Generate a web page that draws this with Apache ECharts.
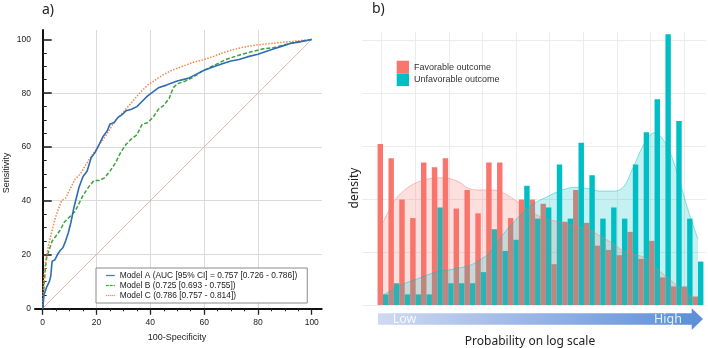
<!DOCTYPE html>
<html><head><meta charset="utf-8">
<script src="https://cdn.jsdelivr.net/npm/echarts@6/dist/echarts.min.js"></script>
<style>html,body{margin:0;padding:0;background:#fff}#c{width:708px;height:348px}</style>
</head><body><div id="c"></div>
<script>
// ---- Panel a) ROC curves (100-Specificity, Sensitivity) ----
const fprA = [0,0.5,1.5,2.5,3,3.5,4.5,5.5,6.5,7.5,8.5,9.5,10.5,11.5,12.5,13.5,15,16.5,18,19.5,21,22.5,24,25,26.5,28,29.5,31,33,35,37,39,41,43,46,50,54,57,60,64,67,70,73,76,80,83,86,89,92,95,100];
const tprA = [0,5,8,10,12,17.5,18,20,21.5,22.5,25,28,32,37,41,45,49,51,56,58,61,64,66,68.5,69,71,72,73.5,74,75,77,79,80.5,82,83,84.5,85.5,87,88.5,90,91,92,92.5,93.5,94.5,95.5,96.5,97.5,98.5,99,100];
const fprB = [0,0.5,1,1.5,2.5,3.5,5,6.5,8,10,12,13.5,15,17,19,21,23,25,27,29,31,33,35,37,39,41,43,45,47,48.5,50,53,56,59,62,65,68,71,74,78,82,86,90,94,97,100];
const tprB = [0,8,15,19,22,25,27,29,32,34,36,39,42,45,47.5,47.5,48.5,51,54,58,61,63,64.5,68.5,69,71,74,75.5,78,82,83.5,84.5,86,88,89.5,91,92.5,93.5,94.5,95.5,96.5,97,98,99,99.5,100];
const fprC = [0,0.3,1,1.5,2.5,3.5,4.5,5.5,7,8.5,10.5,12,14,17,20.5,24,27,30,33.5,36,39,42,45,48,52,56,60,63,67,70,74,80,85,90,95,100];
const tprC = [0,10,17,20,25,29,33,36,40,41,45,48,50,55,60,65,70,73,77,80,83,85,87,88.5,90,91.5,92.5,93.5,95,96,97,98,98.5,99,99.5,100];
const diagonal = [0,100];
const rocTicks = [0,20,40,60,80,100];
const modelNames = [
  'Model A (AUC [95% CI] = 0.757 [0.726 - 0.786])',
  'Model B (0.725 [0.693 - 0.755])',
  'Model C (0.786 [0.757 - 0.814])'
];

// ---- Panel b) histogram + density on log-probability bins ----
const bins = ['b1','b2','b3','b4','b5','b6','b7','b8','b9','b10','b11','b12','b13','b14','b15','b16','b17','b18','b19','b20','b21','b22','b23','b24','b25','b26','b27','b28','b29','b30'];
const favorable   = [3.04,2.77,1.99,1.64,2.69,2.60,2.77,1.82,2.17,1.73,2.69,2.69,1.64,1.99,1.99,1.91,0.77,1.57,2.17,1.55,1.12,1.04,0.94,1.38,0.87,1.21,0.52,0.35,0.35,0.16];
const unfavorable = [0.20,0.41,0.20,0.20,0.20,1.84,0.41,0.41,0.41,0.62,1.43,1.02,1.23,2.25,1.63,1.84,2.65,1.63,3.06,2.45,1.63,1.84,1.63,2.65,3.26,3.88,5.11,3.47,1.63,0.82];
const densFav     = [1.55,1.95,2.17,2.30,2.37,2.40,2.39,2.32,2.19,2.17,2.17,2.12,2.00,1.85,1.72,1.62,1.58,1.52,1.47,1.42,1.30,1.18,1.04,0.96,0.90,0.72,0.55,0.38,0.20,0.08];
const densUnfav   = [0.19,0.30,0.41,0.48,0.56,0.63,0.66,0.70,0.75,0.86,1.03,1.32,1.56,1.77,1.93,2.03,2.13,2.20,2.22,2.19,2.15,2.15,2.20,2.58,3.02,3.25,3.05,2.55,1.85,1.24];
const outcomeNames = ['Favorable outcome','Unfavorable outcome'];

const RED = '#F8766D', TEAL = '#00BFC4';
const BLUE = '#2e6db4', GREEN = '#3aa53a', ORANGE = '#f5884a';
const AX = 'Liberation Sans, Arial, sans-serif';
const NS = 'Noto Sans, Open Sans, sans-serif';
const pairs = (xs, ys) => xs.map((x, i) => [x, ys[i]]);

const ICON_SOLID = 'path://M0,0H10V1H0Z';
const ICON_DASH = 'path://M0,0H3V1H0ZM4.5,0H7.5V1H4.5ZM9,0H10V1H9Z';
const ICON_DOT = 'path://M0,0H1V1H0ZM2.25,0H3.25V1H2.25ZM4.5,0H5.5V1H4.5ZM6.75,0H7.75V1H6.75ZM9,0H10V1H9Z';
const legendItem = (name, icon, color) => ({name, icon, itemStyle: {color, borderColor: color, borderWidth: 0.3, opacity: 1}});

const chart = echarts.init(document.getElementById('c'), null, {renderer: 'canvas'});

chart.setOption({
  animation: false,
  backgroundColor: '#fff',
  grid: [
    {left: 42.7, top: 30, width: 279, height: 278.3},
    {left: 35, top: 30, width: 286.7, height: 278.3},
    {left: 362, top: 32.05, width: 344, height: 272.95},
    {left: 381.7, top: 32.05, width: 302.3, height: 272.95},
    {left: 377.57, top: 32.05, width: 325.86, height: 272.95}
  ],
  xAxis: [
    {gridIndex: 0, type: 'value', min: 0, max: 103.7, interval: 20,
     axisLine: {show: false},
     axisTick: {show: true, customValues: rocTicks, length: 6.5, lineStyle: {color: '#222', width: 1.3}},
     minorTick: {show: true, splitNumber: 4, length: 3, lineStyle: {color: '#222', width: 1}},
     axisLabel: {customValues: rocTicks, margin: 10, fontSize: 8.5, color: '#222', fontFamily: AX},
     splitLine: {show: true, showMinLine: false, showMaxLine: false, lineStyle: {color: '#dadada', width: 1}}},
    {gridIndex: 1, type: 'value', min: 0, max: 1,
     axisLine: {show: true, lineStyle: {color: '#111', width: 2}},
     axisTick: {show: false}, axisLabel: {show: false}, splitLine: {show: false}},
    {gridIndex: 2, type: 'value', min: 0, max: 1, show: false},
    {gridIndex: 3, type: 'value', min: 0, max: 9, interval: 1,
     axisLine: {show: false}, axisTick: {show: false}, axisLabel: {show: false},
     splitLine: {show: true, lineStyle: {color: '#ececec', width: 1}}},
    {gridIndex: 4, type: 'category', data: bins, boundaryGap: true, show: false}
  ],
  yAxis: [
    {gridIndex: 0, type: 'value', min: 0, max: 103.5, interval: 20, offset: 7.7,
     axisLine: {show: true, lineStyle: {color: '#111', width: 2}},
     axisTick: {show: true, inside: true, customValues: rocTicks, length: 9, lineStyle: {color: '#222', width: 1.6}},
     minorTick: {show: true, splitNumber: 4, length: 4, lineStyle: {color: '#222', width: 1}},
     axisLabel: {customValues: rocTicks, margin: 4, fontSize: 8.5, color: '#222', fontFamily: AX},
     splitLine: {show: true, showMinLine: false, showMaxLine: false, lineStyle: {color: '#dadada', width: 1}}},
    {gridIndex: 1, type: 'value', min: 0, max: 1, show: false},
    {gridIndex: 2, type: 'value', min: 0, max: 5.15, interval: 1,
     axisLine: {show: false}, axisTick: {show: false}, axisLabel: {show: false},
     splitLine: {show: true, showMaxLine: false, lineStyle: {color: '#ececec', width: 1}}},
    {gridIndex: 3, type: 'value', min: 0, max: 1, show: false},
    {gridIndex: 4, type: 'value', min: 0, max: 5.15, show: false}
  ],
  legend: [
    {left: 96, top: 268, orient: 'vertical', padding: [3.5, 10, 3.5, 10], itemGap: 2,
     itemWidth: 8.5, itemHeight: 2, borderColor: '#8a8a8a', borderWidth: 1, backgroundColor: '#fff',
     textStyle: {fontSize: 8.4, color: '#222', fontFamily: AX},
     data: [
       legendItem(modelNames[0], ICON_SOLID, BLUE),
       legendItem(modelNames[1], ICON_DASH, GREEN),
       legendItem(modelNames[2], ICON_DOT, ORANGE)
     ]},
    {left: 396.7, top: 60.7, orient: 'vertical', padding: 0, itemGap: 0,
     itemWidth: 12.3, itemHeight: 12.7, icon: 'rect',
     textStyle: {fontSize: 9, color: '#333', fontFamily: AX}, data: outcomeNames}
  ],
  series: [
    {type: 'line', name: 'diag', xAxisIndex: 0, yAxisIndex: 0, data: pairs(diagonal, diagonal),
     symbol: 'none', silent: true, lineStyle: {color: '#e4b4b4', width: 1}, z: 1},
    {type: 'line', name: modelNames[1], xAxisIndex: 0, yAxisIndex: 0, data: pairs(fprB, tprB),
     symbol: 'none', lineStyle: {color: GREEN, width: 1.5, type: [4, 2]}, itemStyle: {color: GREEN}},
    {type: 'line', name: modelNames[2], xAxisIndex: 0, yAxisIndex: 0, data: pairs(fprC, tprC),
     symbol: 'none', lineStyle: {color: ORANGE, width: 1.5, type: [1.5, 1.5]}, itemStyle: {color: ORANGE}},
    {type: 'line', name: modelNames[0], xAxisIndex: 0, yAxisIndex: 0, data: pairs(fprA, tprA),
     symbol: 'none', lineStyle: {color: BLUE, width: 1.6}, itemStyle: {color: BLUE}},

    {type: 'bar', name: outcomeNames[0], xAxisIndex: 4, yAxisIndex: 4, data: favorable,
     itemStyle: {color: RED}, barGap: '0%', barCategoryGap: '0%'},
    {type: 'bar', name: outcomeNames[1], xAxisIndex: 4, yAxisIndex: 4, data: unfavorable,
     itemStyle: {color: TEAL}, barGap: '0%', barCategoryGap: '0%'},
    {type: 'line', name: 'dens-fav', xAxisIndex: 4, yAxisIndex: 4, data: densFav, smooth: 0.4,
     symbol: 'none', silent: true, lineStyle: {color: 'rgba(248,118,109,0.45)', width: 1},
     areaStyle: {color: 'rgba(248,118,109,0.32)'}},
    {type: 'line', name: 'dens-unfav', xAxisIndex: 4, yAxisIndex: 4, data: densUnfav, smooth: 0.4,
     symbol: 'none', silent: true, lineStyle: {color: 'rgba(0,191,196,0.45)', width: 1},
     areaStyle: {color: 'rgba(0,191,196,0.32)'}}
  ],
  graphic: [
    {type: 'text', x: 42, y: 10, style: {text: 'a)', fontSize: 14, fontFamily: NS, fill: '#222', textVerticalAlign: 'middle'}},
    {type: 'text', x: 372, y: 9, style: {text: 'b)', fontSize: 14, fontFamily: NS, fill: '#222', textVerticalAlign: 'middle'}},
    {type: 'text', x: 177, y: 338, style: {text: '100-Specificity', fontSize: 9, fontFamily: AX, fill: '#222', textAlign: 'center', textVerticalAlign: 'middle'}},
    {type: 'text', x: 6.5, y: 173, rotation: Math.PI / 2, style: {text: 'Sensitivity', fontSize: 9, fontFamily: AX, fill: '#222', textAlign: 'center', textVerticalAlign: 'middle'}},
    {type: 'text', x: 355, y: 188, rotation: Math.PI / 2, style: {text: 'density', fontSize: 12, fontFamily: NS, fill: '#222', textAlign: 'center', textVerticalAlign: 'middle'}},
    {type: 'text', x: 530, y: 341.5, style: {text: 'Probability on log scale', fontSize: 12, fontFamily: NS, fill: '#222', textAlign: 'center', textVerticalAlign: 'middle'}},
    {type: 'polygon', shape: {points: [[378, 313.3], [691.7, 313.3], [691.7, 308.3], [703, 319], [691.7, 330], [691.7, 324.7], [378, 324.7]]},
     style: {fill: new echarts.graphic.LinearGradient(0, 0, 1, 0, [{offset: 0, color: '#d0d9f2'}, {offset: 1, color: '#5a8ed7'}])}},
    {type: 'text', x: 392.7, y: 319, style: {text: 'Low', fontSize: 12.5, fontFamily: NS, fill: 'rgba(255,255,255,0.85)', textVerticalAlign: 'middle'}},
    {type: 'text', x: 682, y: 319, style: {text: 'High', fontSize: 12.5, fontFamily: NS, fill: 'rgba(255,255,255,0.85)', textAlign: 'right', textVerticalAlign: 'middle'}}
  ]
});
</script></body></html>
